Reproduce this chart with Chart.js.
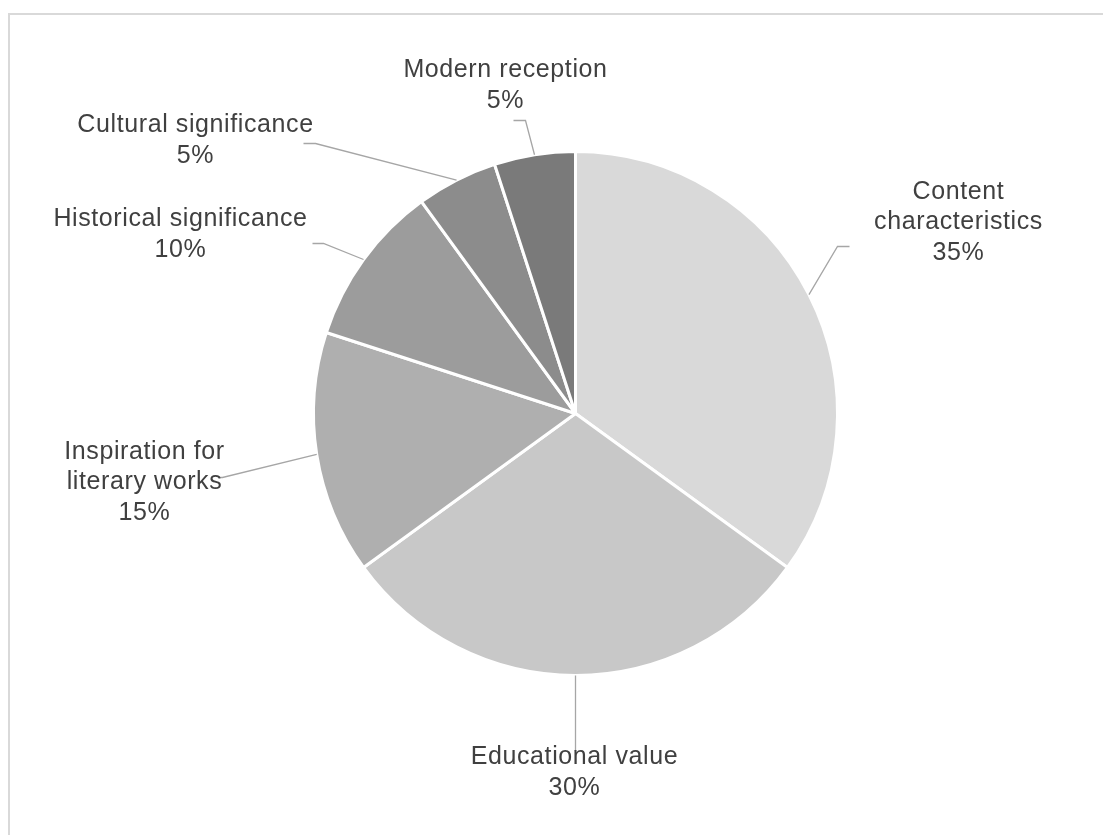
<!DOCTYPE html>
<html>
<head>
<meta charset="utf-8">
<script src="https://cdn.jsdelivr.net/npm/chart.js@4.4.1/dist/chart.umd.min.js"></script>
<style>
  html, body { margin: 0; padding: 0; background: #fff; overflow: hidden; }
  #frame {
    position: absolute; left: 8px; top: 13px;
    width: 1200px; height: 900px;
    border: 2px solid #d9d9d9;
  }
  #pie { position: absolute; left: 0; top: 0; }
</style>
</head>
<body>
<div id="frame"></div>
<canvas id="pie" width="1103" height="835"></canvas>
<script>
// slice data, clockwise from 12 o'clock
const categories = ['Content characteristics', 'Educational value', 'Inspiration for literary works',
                    'Historical significance', 'Cultural significance', 'Modern reception'];
const shares = [35, 30, 15, 10, 5, 5];
const sliceColors = ['#d9d9d9', '#c8c8c8', '#afafaf', '#9c9c9c', '#8c8c8c', '#7a7a7a'];

// label placement, offsets in px from pie centre (words = words on first line)
const labelLayout = [
  { dx: 383, dy: -191, words: 1, elbow: [262, -167], end: [274, -167] },
  { dx: -1, dy: 359, words: 2, elbow: null, end: [0, 337] },
  { dx: -431, dy: 69, words: 2, elbow: [-353, 64], end: [-357, 64] },
  { dx: -395, dy: -179, words: 2, elbow: [-252, -170], end: [-263, -170] },
  { dx: -380, dy: -273, words: 2, elbow: [-260, -270], end: [-272, -270] },
  { dx: -70, dy: -328, words: 2, elbow: [-50, -293], end: [-62, -293] }
];

const leaderLabels = {
  id: 'leaderLabels',
  afterDraw(chart) {
    const ctx = chart.ctx;
    const arcs = chart.getDatasetMeta(0).data;
    ctx.save();
    arcs.forEach((arc, i) => {
      const lay = labelLayout[i];
      const cx = arc.x, cy = arc.y;
      const mid = (arc.startAngle + arc.endAngle) / 2;
      const r = arc.outerRadius;
      // leader line
      ctx.strokeStyle = '#a6a6a6';
      ctx.lineWidth = 1.3;
      ctx.beginPath();
      ctx.moveTo(cx + Math.cos(mid) * r, cy + Math.sin(mid) * r);
      if (lay.elbow) ctx.lineTo(cx + lay.elbow[0], cy + lay.elbow[1]);
      ctx.lineTo(cx + lay.end[0], cy + lay.end[1]);
      ctx.stroke();

      // text
      const words = categories[i].split(' ');
      const lines = [words.slice(0, lay.words).join(' ')];
      if (words.length > lay.words) lines.push(words.slice(lay.words).join(' '));
      lines.push(shares[i] + '%');
      ctx.fillStyle = '#404040';
      ctx.font = '25px "Liberation Sans", Arial, sans-serif';
      ctx.letterSpacing = '0.6px';
      ctx.textAlign = 'center';
      ctx.textBaseline = 'middle';
      const lh = 30.5;
      const top = cy + lay.dy - (lines.length - 1) * lh / 2;
      lines.forEach((t, k) => ctx.fillText(t, cx + lay.dx, top + k * lh));
    });
    ctx.restore();
  }
};

new Chart(document.getElementById('pie'), {
  type: 'pie',
  data: {
    labels: categories,
    datasets: [{
      data: shares,
      backgroundColor: sliceColors,
      borderColor: '#ffffff',
      borderWidth: 3
    }]
  },
  options: {
    responsive: false,
    animation: false,
    layout: { padding: { left: 312, right: 264, top: 150, bottom: 158 } },
    plugins: {
      legend: { display: false },
      tooltip: { enabled: false }
    }
  },
  plugins: [leaderLabels]
});
</script>
</body>
</html>
